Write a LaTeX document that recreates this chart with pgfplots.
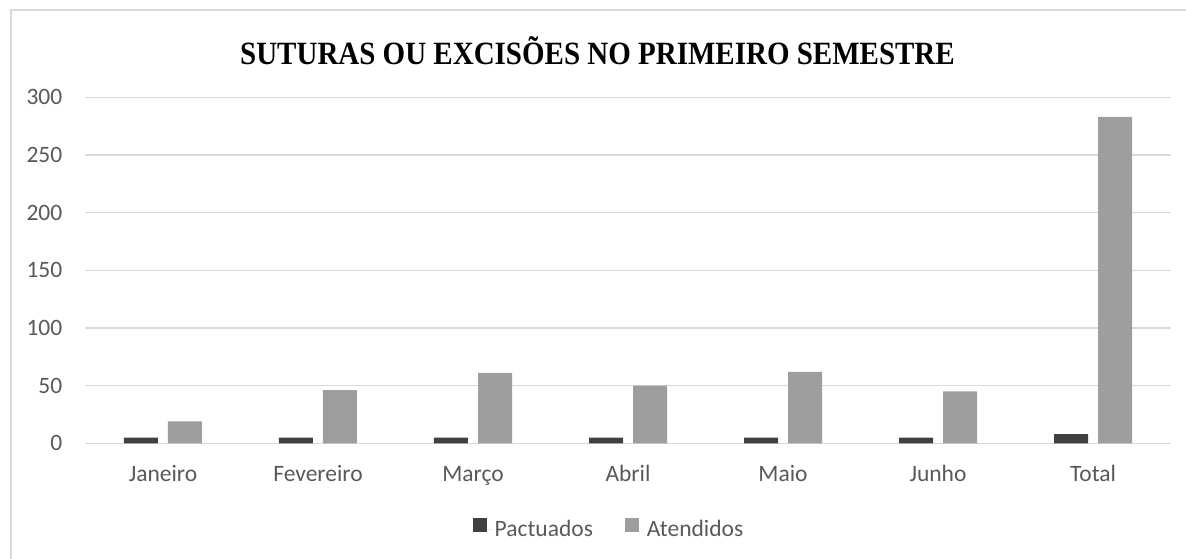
\documentclass[border=0pt]{standalone}
\usepackage{fontspec}
\setmainfont{Carlito}
\newfontfamily\titlefont{Liberation Serif}
\usepackage{graphicx}
\usepackage{pgfplots}
\pgfplotsset{compat=1.18}
\definecolor{pact}{HTML}{404040}
\definecolor{aten}{HTML}{9E9E9E}
\definecolor{gridc}{HTML}{D9D9D9}
\definecolor{txt}{HTML}{595959}
\begin{document}
\begin{tikzpicture}
\path[use as bounding box] (-85.5pt,-115.7pt) rectangle (1100.5pt,443.3pt);
\draw[gridc, line width=1.3pt] (-74.5pt,-120pt) -- (-74.5pt,433.3pt) -- (1105pt,433.3pt);
\begin{axis}[
 at={(0pt,0pt)}, anchor=south west,
 scale only axis, width=1085pt, height=346pt,
 ybar=10pt, bar width=34pt,
 xmin=-0.5, xmax=6.5, ymin=0, ymax=300,
 xtick={0,...,6}, xticklabels={Janeiro,Fevereiro,Março,Abril,Maio,Junho,Total},
 ytick={0,50,...,300},
 ymajorgrids, grid style={gridc, line width=1.3pt},
 axis line style={draw=none},
 major tick length=0pt,
 tick label style={font=\fontsize{23.5}{28}\selectfont, text=txt, inner sep=0pt},
 yticklabel style={anchor=east, xshift=-23pt},
 xticklabel style={anchor=base, yshift=-38.7pt},
 /pgf/number format/assume math mode=true,
 legend columns=2,
 legend style={at={(0.4825,-0.2475)}, anchor=center, draw=none, fill=none,
   font=\fontsize{23.5}{28}\selectfont, text=txt,
   /tikz/every even column/.append style={column sep=30pt}},
 legend image code/.code={\path (0pt,0pt) -- (20pt,0pt); \fill[#1] (0pt,-2.5pt) rectangle (14pt,11.5pt);},
]
\addplot[fill=pact, draw=none] coordinates {(0,5)(1,5)(2,5)(3,5)(4,5)(5,5)(6,8)};
\addplot[fill=aten, draw=none] coordinates {(0,19)(1,46)(2,61)(3,50)(4,62)(5,45)(6,283)};
\legend{Pactuados, Atendidos}
\end{axis}
\node[font=\titlefont\bfseries\fontsize{29}{34}\selectfont, anchor=base, inner sep=0pt] at (512pt, 378.3pt) {\scalebox{1}[1.12]{SUTURAS OU EXCISÕES NO PRIMEIRO SEMESTRE}};
\end{tikzpicture}
\end{document}
